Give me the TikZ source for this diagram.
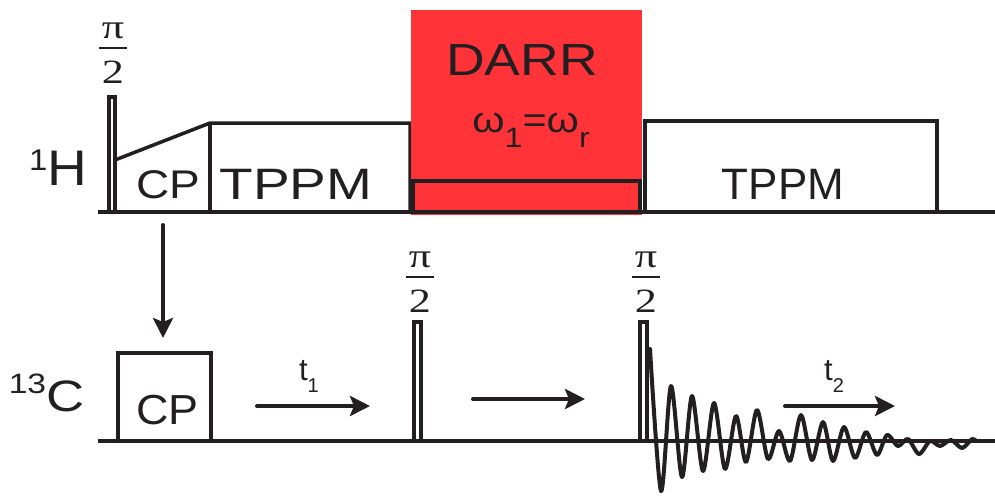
\documentclass[tikz,border=0pt]{standalone}
\usepackage{fontspec}
\setmainfont{Liberation Sans}
\newfontfamily\timesfont{Liberation Serif}
\usetikzlibrary{arrows.meta}

\definecolor{ink}{HTML}{231F20}
\definecolor{darrred}{HTML}{FF3338}
\newcommand\fsz[1]{\fontsize{#1}{#1}\selectfont}
\newcommand\hstretch[2]{\scalebox{#1}[1]{#2}}
\newcommand\upidx[3]{\raisebox{#1}{\fsz{#2}#3}}
\newcommand\lowidx[3]{\raisebox{-#1}{\fsz{#2}#3}}
\newcommand\halfpi{\hstretch{1.3}{\timesfont\fsz{34}\vbox{\halign{\hskip2pt\hfil##\hfil\hskip2pt\cr π\cr\noalign{\kern9pt\hrule height2pt\kern11pt}2\cr}}}}

\begin{document}
\begin{tikzpicture}[x=1pt,y=-1pt,
  seq/.style={line width=3.5pt,draw=ink},
  base/.style={line width=3.8pt,draw=ink},
  fid/.style={line width=4pt,draw=ink,line cap=round,line join=round},
  ar/.style={-{Stealth[length=20pt,width=20pt,inset=4pt]},line width=4pt,draw=ink,fill=ink,line cap=round},
  lbl/.style={inner sep=0pt,text=ink}]
\useasboundingbox (0,0) rectangle (995,496);

% 1H channel
\draw[base] (98,212) -- (995,212);
\draw[seq] (109,212) -- (109,97) -- (115,97) -- (115,212);
\draw[seq] (115,160) -- (210,123) -- (410,123) -- (410,212);
\draw[seq] (210,123) -- (210,212);
\draw[seq] (645,212) -- (645,121) -- (937,121) -- (937,212);
\fill[darrred] (411,10) rectangle (642,215);
\draw[seq] (413,212) rectangle (640,181);

\node[lbl,anchor=base east] (h1) at (87.5,185) {\hstretch{1.1}{\upidx{15pt}{30}{1}\fsz{50}H}};
\node[lbl,anchor=base] (piH) at (113,83) {\halfpi};
\node[lbl,anchor=base] (cpH) at (168,198) {\hstretch{1.15}{\fsz{40}CP}};
\node[lbl,anchor=base] (tppmA) at (296,199) {\hstretch{1.25}{\fsz{44}TPPM}};
\node[lbl,anchor=base] (tppmB) at (783,199) {\fsz{44}TPPM};
\node[lbl,anchor=base] (darr) at (522,75) {\hstretch{1.19}{\fsz{45}DARR}};
\node[lbl,anchor=base] (omega) at (531,132) {\hstretch{1.15}{\fsz{36}ω\lowidx{15pt}{28}{1}=ω\lowidx{15pt}{28}{r}}};

% 13C channel
\draw[base] (98,441) -- (995,441);
\draw[seq] (118,441) -- (118,353) -- (211,353) -- (211,441);
\draw[seq] (414,441) -- (414,322) -- (421,322) -- (421,441);
\draw[seq] (640,441) -- (640,322) -- (647,322) -- (647,441);
\draw[fid] plot[smooth] coordinates {(650,349) (661,491) (671,386) (682,477) (692,396)
  (703,471) (714,403) (725,469) (736,416) (746,462) (757,410) (768,459) (779,431)
  (790,461) (801,415) (812,460) (823,422) (833,461) (844,427) (855,458) (866,432)
  (877,455) (887,435) (898,446) (908,439) (919,454) (930,441) (940,446) (951,440)
  (962,448) (972,439) (976,441)};

\node[lbl,anchor=base east] (c13) at (84.5,411) {\hstretch{1.2}{\upidx{18pt}{28}{13}\fsz{44}C}};
\node[lbl,anchor=base] (cpC) at (167.5,424.5) {\hstretch{1.07}{\fsz{42}CP}};
\node[lbl,anchor=base] (piA) at (420,312) {\halfpi};
\node[lbl,anchor=base] (piB) at (646,312) {\halfpi};
\node[lbl,anchor=base] (ta) at (309,380) {\fsz{31}t\lowidx{12pt}{20}{1}};
\node[lbl,anchor=base] (tb) at (834,380) {\fsz{31}t\lowidx{12pt}{20}{2}};

% arrows
\coordinate (xferS) at (163,225);
\coordinate (xferE) at (163,338);
\coordinate (taS) at (257,406);
\coordinate (taE) at (370,406);
\coordinate (midS) at (473,399);
\coordinate (midE) at (585,399);
\coordinate (tbS) at (785,406);
\coordinate (tbE) at (895,406);
\draw[ar] (xferS) -- (xferE);
\draw[ar] (taS) -- (taE);
\draw[ar] (midS) -- (midE);
\draw[ar] (tbS) -- (tbE);
\end{tikzpicture}
\end{document}
